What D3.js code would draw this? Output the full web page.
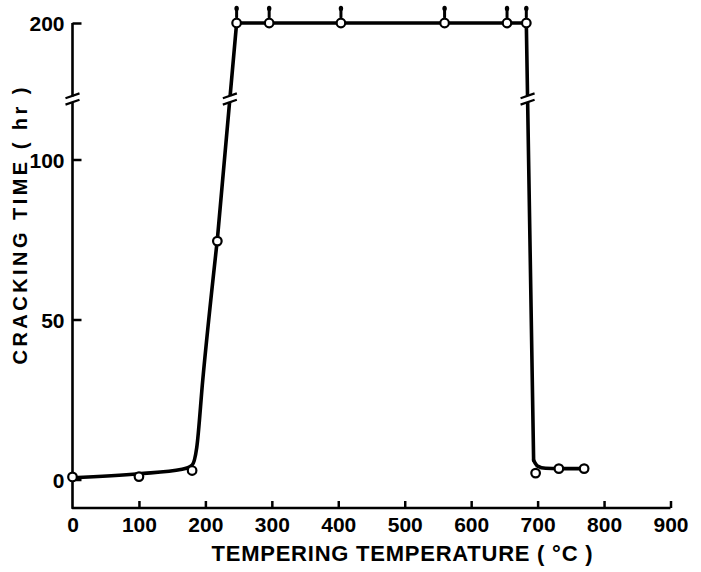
<!DOCTYPE html>
<html>
<head>
<meta charset="utf-8">
<script src="https://cdn.jsdelivr.net/npm/d3@7"></script>
<style>
  html, body { margin: 0; padding: 0; background: #fff; }
  svg { display: block; }
  text { font-family: "Liberation Sans", Arial, sans-serif; font-weight: bold; fill: #000; }
</style>
</head>
<body>
<svg id="chart" width="701" height="572"></svg>
<script>
// Tempering temperature (°C) vs. time to cracking (hr)
const temps = [0, 100, 180, 218, 247, 296, 404, 560, 654, 683, 697, 732, 770];
const hours = [0.8, 0.9, 2.8, 74.5, 200, 200, 200, 200, 200, 200, 2, 3.4, 3.4];
// specimens that had not cracked when the test was stopped at 200 hr
const unbroken = [247, 296, 404, 560, 654, 683];

// hand-drawn trend line, in three pieces: the rise, the plateau, the drop
const riseT = [0, 100, 165, 180, 187, 196, 218];
const riseH = [0.5, 1.8, 3.2, 4.5, 10, 31, 75];
const plateauT = [218, 247, 683, 694];
const plateauH = [75, 200, 200, 6];
const dropT = [694, 700, 712, 732, 770];
const dropH = [6, 4.2, 3.5, 3.4, 3.4];

const xTicks = [0, 100, 200, 300, 400, 500, 600, 700, 800, 900];
const yTicks = [0, 50, 100, 200];

const xTitle = "TEMPERING TEMPERATURE ( °C )";
const yTitle = "CRACKING TIME  ( hr )";

const svg = d3.select("#chart");

const x = d3.scaleLinear().domain([0, 900]).range([72.5, 670.5]);
// broken axis: 0-100 on a linear scale, then a jump to 200 at the top
const y = d3.scaleLinear().domain([0, 100, 200]).range([479.5, 159.5, 23]);
const breakY = 99;

const axisY0 = 508;
const font = '"Liberation Sans", Arial, sans-serif';

// x axis
const gx = svg.append("g").attr("transform", `translate(0,${axisY0})`)
  .call(d3.axisBottom(x).tickValues(xTicks).tickSizeInner(-7).tickSizeOuter(0).tickPadding(9));
gx.select(".domain").remove();
gx.selectAll(".tick line").attr("stroke", "#000").attr("stroke-width", 2.5);
gx.selectAll(".tick").filter(d => d === 0).select("line").remove();
gx.selectAll(".tick text").style("font-size", "21px").attr("fill", "#000")
  .style("font-family", font).style("font-weight", "bold");

// y axis
const gy = svg.append("g").attr("transform", `translate(${x(0)},0)`)
  .call(d3.axisLeft(y).tickValues(yTicks).tickSizeInner(-9).tickSizeOuter(0).tickPadding(8));
gy.select(".domain").remove();
gy.selectAll(".tick line").attr("stroke", "#000").attr("stroke-width", 2.5);
gy.selectAll(".tick text").style("font-size", "21px").attr("fill", "#000")
  .style("font-family", font).style("font-weight", "bold")
  .attr("dy", "0.38em");

// axis lines, with a gap in the y axis for the break
const axisPath = d3.path();
axisPath.moveTo(x(0), y(200));
axisPath.lineTo(x(0), breakY - 2.5);
axisPath.moveTo(x(0), breakY + 3.5);
axisPath.lineTo(x(0), axisY0);
axisPath.lineTo(x(900), axisY0);
svg.append("path").attr("d", axisPath.toString())
  .attr("fill", "none").attr("stroke", "#000").attr("stroke-width", 2.6)
  .attr("stroke-linejoin", "round");

// break marks: two short slanted strokes across a line at (cx, cy)
function breakMark(cx, cy) {
  const half = 7, rise = 2.4;
  [-3.2, 3.2].forEach(off => {
    svg.append("line")
      .attr("x1", cx - half).attr("y1", cy + off + rise)
      .attr("x2", cx + half).attr("y2", cy + off - rise)
      .attr("stroke", "#000").attr("stroke-width", 2.2);
  });
}

// trend line
const toPts = (ts, hs) => ts.map((t, i) => [x(t), y(hs[i])]);
const smooth = d3.line().curve(d3.curveMonotoneX);
const straight = d3.line();
const lineStyle = sel => sel.attr("fill", "none").attr("stroke", "#000")
  .attr("stroke-width", 3.6).attr("stroke-linejoin", "round").attr("stroke-linecap", "round");

svg.append("path").attr("d", smooth(toPts(riseT, riseH))).call(lineStyle);
const plateauPts = toPts(plateauT, plateauH);
svg.append("path").attr("d", straight(plateauPts)).call(lineStyle);
svg.append("path").attr("d", smooth(toPts(dropT, dropH))).call(lineStyle);

// break the two steep segments where they pass the axis break
function pointAtY(p, q, py) {
  const k = (py - p[1]) / (q[1] - p[1]);
  return [p[0] + k * (q[0] - p[0]), py];
}
[[plateauPts[0], plateauPts[1]], [plateauPts[2], plateauPts[3]]].forEach(([p, q]) => {
  const a = pointAtY(p, q, breakY - 3);
  const b = pointAtY(p, q, breakY + 3);
  svg.append("line").attr("x1", a[0]).attr("y1", a[1]).attr("x2", b[0]).attr("y2", b[1])
    .attr("stroke", "#fff").attr("stroke-width", 7);
  const c = pointAtY(p, q, breakY);
  breakMark(c[0], c[1]);
});
breakMark(x(0), breakY);

// run-out arrows above the unbroken specimens
const arrows = svg.append("g").selectAll("g").data(unbroken).join("g");
arrows.append("line")
  .attr("x1", d => x(d)).attr("x2", d => x(d))
  .attr("y1", y(200) - 6).attr("y2", y(200) - 15)
  .attr("stroke", "#000").attr("stroke-width", 3).attr("stroke-linecap", "round");
arrows.append("ellipse")
  .attr("cx", d => x(d)).attr("cy", y(200) - 14.5).attr("rx", 2.2).attr("ry", 2.8)
  .attr("fill", "#000");

// measured points
svg.append("g").selectAll("circle").data(temps).join("circle")
  .attr("cx", d => x(d)).attr("cy", (d, i) => y(hours[i])).attr("r", 4.3)
  .attr("fill", "#fff").attr("stroke", "#000").attr("stroke-width", 2.2);

// titles
svg.append("text").attr("x", 402).attr("y", 561)
  .attr("text-anchor", "middle").style("font-size", "22px")
  .attr("textLength", 381).attr("lengthAdjust", "spacing")
  .text(xTitle);

svg.append("text").attr("transform", "translate(27,226) rotate(-90)")
  .attr("text-anchor", "middle").style("font-size", "20px")
  .attr("textLength", 277).attr("lengthAdjust", "spacing")
  .text(yTitle);
</script>
</body>
</html>
